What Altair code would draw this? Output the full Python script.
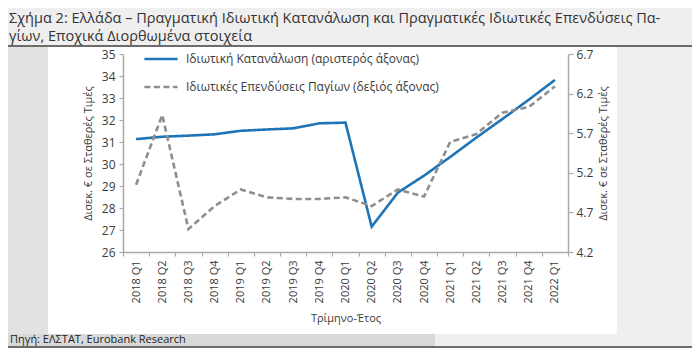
import altair as alt
import pandas as pd

quarters = ["2018 Q1", "2018 Q2", "2018 Q3", "2018 Q4",
            "2019 Q1", "2019 Q2", "2019 Q3", "2019 Q4",
            "2020 Q1", "2020 Q2", "2020 Q3", "2020 Q4",
            "2021 Q1", "2021 Q2", "2021 Q3", "2021 Q4", "2022 Q1"]
consumption = [31.13, 31.24, 31.29, 31.35, 31.51, 31.57, 31.62, 31.85, 31.88,
               27.15, 28.70, 29.47, 30.32, 31.20, 32.05, 32.92, 33.82]
investment = [5.05, 5.93, 4.49, 4.78, 4.99, 4.89, 4.87, 4.87, 4.89,
              4.78, 4.99, 4.90, 5.59, 5.69, 5.96, 6.03, 6.29]

cons_label = "Ιδιωτική Κατανάλωση (αριστερός άξονας)"
inv_label = "Ιδιωτικές Επενδύσεις Παγίων (δεξιός άξονας)"
title_lines = ["Σχήμα 2: Ελλάδα – Πραγματική Ιδιωτική Κατανάλωση και Πραγματικές Ιδιωτικές Επενδύσεις Πα-",
               "γίων, Εποχικά Διορθωμένα στοιχεία"]
source_text = "Πηγή: ΕΛΣΤΑΤ, Eurobank Research"
x_title = "Τρίμηνο-Έτος"
y_title = "Δισεκ. € σε Σταθερές Τιμές"
left_ticks = [26, 27, 28, 29, 30, 31, 32, 33, 34, 35]
right_ticks = [4.2, 4.7, 5.2, 5.7, 6.2, 6.7]

FONT = "Open Sans"
BLUE = "#1f74b6"
GRAY = "#8e8e8e"
AX = "#aaaaaa"
TXT = "#3a3a3a"

df_c = pd.DataFrame({"q": quarters, "v": consumption, "s": cons_label})
df_i = pd.DataFrame({"q": quarters, "v": investment, "s": inv_label})
one = pd.DataFrame({"k": [0]})

x_enc = alt.X(
    "q:N", sort=quarters, bandPosition=0.5,
    scale=alt.Scale(type="band", paddingInner=0, paddingOuter=0),
    axis=alt.Axis(title=x_title, labelAngle=270, tickBand="extent", zindex=2,
                  domainColor=AX, tickColor=AX, domainWidth=1.5, tickWidth=1.2,
                  tickSize=4, labelPadding=4, labelFontSize=11, labelColor=TXT,
                  titleFontSize=11, titleFontWeight="normal", titleColor=TXT,
                  titlePadding=10),
)

legend_cfg = dict(title=None, orient="none", legendX=20, legendY=-13,
                  symbolType="stroke", symbolSize=1100, symbolStrokeWidth=2.5,
                  labelFontSize=12, labelColor=TXT, labelOffset=7,
                  rowPadding=4, padding=0, labelLimit=400)
color_enc = alt.Color(
    "s:N",
    scale=alt.Scale(domain=[cons_label, inv_label], range=[BLUE, GRAY]),
    legend=alt.Legend(**legend_cfg),
)
dash_enc = alt.StrokeDash(
    "s:N",
    scale=alt.Scale(domain=[cons_label, inv_label], range=[[1, 0], [6, 3.5]]),
    legend=alt.Legend(**legend_cfg),
)

line_c = alt.Chart(df_c).mark_line(strokeWidth=2.6).encode(
    x=x_enc,
    y=alt.Y("v:Q", scale=alt.Scale(domain=[26, 35], nice=False, zero=False),
            axis=alt.Axis(title=y_title, orient="left", values=left_ticks, zindex=2,
                          domainColor=AX, tickColor=AX, domainWidth=1.5, tickWidth=1.2,
                          tickSize=4, labelPadding=4, labelFontSize=12, labelColor=TXT,
                          titleFontSize=11, titleFontWeight="normal", titleColor=TXT,
                          titlePadding=8, grid=False)),
    color=color_enc, strokeDash=dash_enc,
)
line_i = alt.Chart(df_i).mark_line(strokeWidth=2.6).encode(
    x=x_enc,
    y=alt.Y("v:Q", scale=alt.Scale(domain=[4.2, 6.7], nice=False, zero=False),
            axis=alt.Axis(title=y_title, orient="right", values=right_ticks, format=".1f",
                          zindex=2,
                          domainColor=AX, tickColor=AX, domainWidth=1.5, tickWidth=1.2,
                          tickSize=5, labelPadding=3, labelFontSize=12, labelColor=TXT,
                          titleFontSize=11, titleFontWeight="normal", titleColor=TXT,
                          titleAngle=270, titleBaseline="top",
                          titlePadding=5, grid=False)),
    color=color_enc, strokeDash=dash_enc,
)

# decorations (page layout)
left_strip = alt.Chart(one).mark_rect(color="#e2e2e2").encode(
    x=alt.value(-115), x2=alt.value(-75), y=alt.value(-7), y2=alt.value(280))
panel = alt.Chart(one).mark_rect(color="white").encode(
    x=alt.value(-75), x2=alt.value(494), y=alt.value(-7), y2=alt.value(280))
foot_band = alt.Chart(one).mark_rect(color="#d9d9d9").encode(
    x=alt.value(-115), x2=alt.value(312), y=alt.value(280), y2=alt.value(292))
head_rule = alt.Chart(one).mark_rule(color="#404040", strokeWidth=1.6).encode(
    x=alt.value(-115), x2=alt.value(570), y=alt.value(-8))
foot_rule = alt.Chart(one).mark_rule(color="#404040", strokeWidth=1.4).encode(
    x=alt.value(-115), x2=alt.value(570), y=alt.value(293))
t1 = alt.Chart(one).mark_text(text=title_lines[0], align="left", baseline="middle",
                              fontSize=14.5, font=FONT, color="#333333").encode(
    x=alt.value(-114), y=alt.value(-35))
t2 = alt.Chart(one).mark_text(text=title_lines[1], align="left", baseline="middle",
                              fontSize=14.5, font=FONT, color="#333333").encode(
    x=alt.value(-114), y=alt.value(-17))
src = alt.Chart(one).mark_text(text=source_text, align="left", baseline="middle",
                               fontSize=11, font=FONT, color="#222222").encode(
    x=alt.value(-113), y=alt.value(286))

chart = alt.layer(
    left_strip, panel, foot_band, head_rule, foot_rule, t1, t2, src, line_c, line_i
).resolve_scale(y="independent").properties(
    width=445, height=198,
    padding={"left": 115, "top": 46, "right": 124, "bottom": 96},
    autosize=alt.AutoSizeParams(type="none"),
    background="#efefef",
).configure_view(stroke=None).configure(font=FONT)

chart.save("out.html", embed_options={"renderer": "svg", "actions": False})
